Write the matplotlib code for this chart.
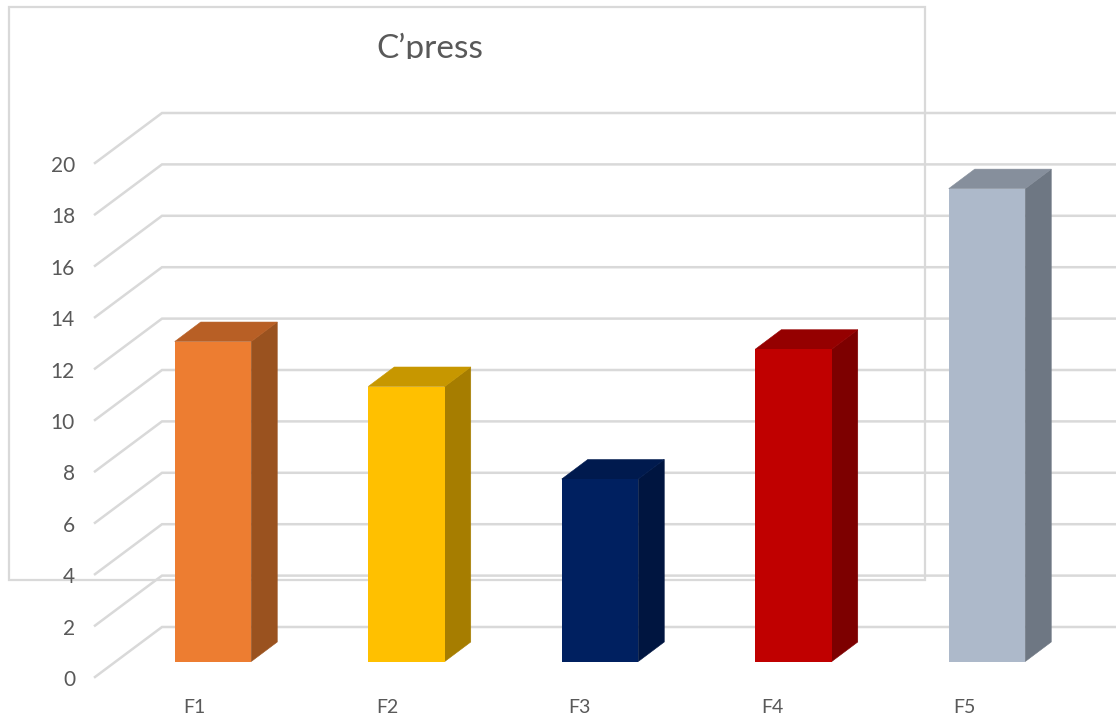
import matplotlib
matplotlib.use('Agg')
import matplotlib.pyplot as plt
from matplotlib.patches import Polygon, Rectangle

categorias = ['F1', 'F2', 'F3', 'F4', 'F5']
valores = [12.45, 10.7, 7.1, 12.15, 18.4]
marcas_y = [0, 2, 4, 6, 8, 10, 12, 14, 16, 18, 20]

color_frente = ['#ED7D31', '#FFC000', '#002060', '#C00000', '#ADB9CA']
color_lado = ['#9A521F', '#A67D00', '#001540', '#7D0000', '#6E7783']
color_tapa = ['#B85F25', '#C79700', '#001A4E', '#950000', '#868F9C']
color_rejilla = '#D9D9D9'
color_texto = '#595959'

# escala de la figura: pixeles por categoria y por unidad
W, H = 1116, 718
px_x = 193.5
px_y = 25.7
x0_px = 213.0
y0_px = 661.5


def dx(p):
    return p / px_x


def dy(p):
    return p / px_y


fig = plt.figure(figsize=(W / 100, H / 100), dpi=100)
fig.patch.set_facecolor('white')
ax = fig.add_axes([0, 0, 1, 1])
ax.set_xlim(-x0_px / px_x, (W - x0_px) / px_x)
ax.set_ylim(-(H - y0_px) / px_y, y0_px / px_y)
ax.axis('off')
plt.rcParams['font.family'] = ['Lato', 'DejaVu Sans']

# marco del area del grafico
ax.add_patch(Rectangle((9 / W, 1 - 580 / H), 916 / W, 573 / H, transform=ax.transAxes,
                       fill=False, edgecolor=color_rejilla, linewidth=1.6, zorder=2))

# rejilla con el escalon de profundidad a la izquierda
x_frente = ax.get_xlim()[0] + dx(95)
x_fondo = ax.get_xlim()[0] + dx(162)
x_fin = ax.get_xlim()[1]
for m in marcas_y:
    ax.plot([x_frente, x_fondo, x_fin],
            [m - dy(15.5), m + dy(34.5), m + dy(34.5)],
            color=color_rejilla, linewidth=1.8, solid_joinstyle='miter', zorder=1)
    ax.text(x_frente - dx(20), m - dy(18.5), str(m), ha='right', va='center',
            fontsize=15, color=color_texto, zorder=6)

# barras 3D: frente, lado y tapa
ancho = 76.5 / px_x
prof_x = dx(26)
prof_y = dy(19.5)
for i, v in enumerate(valores):
    izq = i - ancho / 2
    der = i + ancho / 2
    ax.add_patch(Polygon([(der, 0), (der + prof_x, prof_y), (der + prof_x, v + prof_y), (der, v)],
                         closed=True, facecolor=color_lado[i], edgecolor=color_lado[i],
                         linewidth=0.4, zorder=4))
    ax.add_patch(Polygon([(izq, v), (izq + prof_x, v + prof_y), (der + prof_x, v + prof_y), (der, v)],
                         closed=True, facecolor=color_tapa[i], edgecolor=color_tapa[i],
                         linewidth=0.4, zorder=4))
    ax.bar(i, v, width=ancho, color=color_frente[i], linewidth=0, zorder=5)
    # las etiquetas van algo mas juntas que las barras
    ax.text(i - dx(18.5 + i), -dy(46), categorias[i], ha='center', va='center',
            fontsize=14, color=color_texto, zorder=6)

# titulo cortado por abajo
titulo = ax.text(ax.get_xlim()[0] + dx(430), ax.get_ylim()[1] - dy(58), 'C\u2019press',
                 ha='center', va='baseline', fontsize=24, color=color_texto, zorder=6,
                 clip_on=True)
corte = Rectangle((0, 1 - 59 / H), 1, 59 / H, transform=ax.transAxes)
titulo.set_clip_path(corte)

fig.savefig('out.png', dpi=100)
